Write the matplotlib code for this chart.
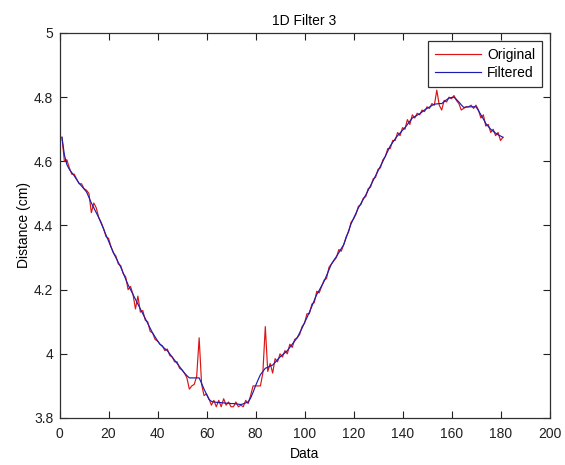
import matplotlib
matplotlib.use("Agg")
import matplotlib.pyplot as plt

plt.rcParams['font.family'] = ['Liberation Sans', 'DejaVu Sans']

# sample index 1..181
data_idx = list(range(1, 182))

original = [
    4.675, 4.600, 4.605, 4.580, 4.560, 4.560, 4.545, 4.530, 4.530, 4.515,
    4.510, 4.500, 4.440, 4.470, 4.455, 4.425, 4.410, 4.390, 4.365, 4.360,
    4.335, 4.315, 4.305, 4.280, 4.275, 4.250, 4.240, 4.200, 4.210, 4.185,
    4.140, 4.180, 4.130, 4.135, 4.105, 4.100, 4.070, 4.065, 4.045, 4.040,
    4.030, 4.025, 4.010, 4.015, 3.995, 3.990, 3.975, 3.975, 3.955, 3.950,
    3.940, 3.925, 3.890, 3.900, 3.905, 3.930, 4.050, 3.905, 3.870, 3.875,
    3.860, 3.840, 3.855, 3.835, 3.855, 3.835, 3.860, 3.840, 3.850, 3.835,
    3.835, 3.850, 3.835, 3.840, 3.835, 3.855, 3.845, 3.870, 3.900, 3.900,
    3.900, 3.900, 3.940, 4.085, 3.945, 3.970, 3.940, 3.985, 3.975, 4.000,
    3.990, 4.010, 4.000, 4.030, 4.020, 4.045, 4.050, 4.060, 4.085, 4.095,
    4.125, 4.125, 4.155, 4.160, 4.195, 4.190, 4.210, 4.230, 4.235, 4.270,
    4.280, 4.290, 4.300, 4.325, 4.320, 4.340, 4.365, 4.380, 4.410, 4.420,
    4.435, 4.460, 4.465, 4.485, 4.490, 4.515, 4.520, 4.545, 4.550, 4.575,
    4.580, 4.605, 4.615, 4.640, 4.640, 4.665, 4.665, 4.690, 4.680, 4.705,
    4.700, 4.730, 4.715, 4.745, 4.735, 4.750, 4.745, 4.760, 4.755, 4.770,
    4.765, 4.780, 4.775, 4.822, 4.775, 4.760, 4.790, 4.785, 4.800, 4.795,
    4.805, 4.790, 4.780, 4.760, 4.765, 4.770, 4.770, 4.775, 4.765, 4.775,
    4.760, 4.735, 4.745, 4.710, 4.715, 4.690, 4.700, 4.680, 4.690, 4.665, 4.675,
]

filtered = [
    4.675, 4.620, 4.590, 4.575, 4.565, 4.555, 4.543, 4.532, 4.523, 4.514,
    4.505, 4.488, 4.470, 4.455, 4.440, 4.425, 4.407, 4.389, 4.370, 4.352,
    4.333, 4.315, 4.300, 4.285, 4.270, 4.252, 4.233, 4.215, 4.200, 4.185,
    4.170, 4.155, 4.140, 4.125, 4.110, 4.095, 4.080, 4.065, 4.053, 4.041,
    4.030, 4.023, 4.016, 4.010, 4.000, 3.990, 3.980, 3.970, 3.960, 3.950,
    3.940, 3.932, 3.925, 3.925, 3.925, 3.925, 3.925, 3.908, 3.890, 3.874,
    3.858, 3.852, 3.850, 3.849, 3.848, 3.848, 3.847, 3.846, 3.846, 3.845,
    3.845, 3.844, 3.843, 3.842, 3.844, 3.847, 3.850, 3.862, 3.880, 3.900,
    3.918, 3.935, 3.945, 3.955, 3.958, 3.962, 3.965, 3.973, 3.982, 3.990,
    3.997, 4.003, 4.010, 4.020, 4.030, 4.040, 4.050, 4.065, 4.080, 4.097,
    4.113, 4.130, 4.148, 4.167, 4.185, 4.198, 4.212, 4.226, 4.244, 4.262,
    4.280, 4.292, 4.303, 4.315, 4.328, 4.340, 4.362, 4.383, 4.405, 4.422,
    4.438, 4.455, 4.468, 4.482, 4.495, 4.510, 4.525, 4.540, 4.555, 4.570,
    4.585, 4.600, 4.616, 4.632, 4.648, 4.659, 4.670, 4.680, 4.688, 4.697,
    4.705, 4.715, 4.725, 4.735, 4.739, 4.744, 4.748, 4.754, 4.760, 4.765,
    4.769, 4.774, 4.778, 4.779, 4.780, 4.780, 4.786, 4.792, 4.797, 4.799,
    4.800, 4.793, 4.785, 4.776, 4.768, 4.769, 4.770, 4.770, 4.770, 4.770,
    4.758, 4.745, 4.732, 4.718, 4.709, 4.700, 4.694, 4.688, 4.683, 4.679, 4.675,
]

xticks = [0, 20, 40, 60, 80, 100, 120, 140, 160, 180, 200]
yticks = [3.8, 4.0, 4.2, 4.4, 4.6, 4.8, 5.0]
ytick_labels = ["3.8", "4", "4.2", "4.4", "4.6", "4.8", "5"]

W, H = 565, 465
fig = plt.figure(figsize=(W / 100, H / 100), dpi=100)
ax = fig.add_axes([59.5 / W, 1 - 418 / H, 490 / W, 385 / H])

ax.plot(data_idx, original, color="#dc1414", lw=0.85, label="Original")
ax.plot(data_idx, filtered, color="#1c1cb0", lw=0.85, label="Filtered")

ax.set_xlim(0, 200)
ax.set_ylim(3.8, 5.0)
ax.set_xticks(xticks)
ax.set_yticks(yticks)
ax.set_yticklabels(ytick_labels)
ax.tick_params(direction="in", top=True, right=True, length=5, width=0.8,
               labelsize=10, colors="#202020")
ax.tick_params(axis="x", pad=6.5)
ax.tick_params(axis="y", pad=4.5)
for sp in ax.spines.values():
    sp.set_linewidth(0.9)
    sp.set_color("#303030")

ax.set_title("1D Filter 3", fontsize=10, pad=6)
ax.set_xlabel("Data", fontsize=10, labelpad=4)
ax.set_ylabel("Distance (cm)", fontsize=10, labelpad=2)

leg = ax.legend(loc="upper right", bbox_to_anchor=(542 / W, 1 - 41 / H),
                bbox_transform=fig.transFigure, fancybox=False, framealpha=1,
                edgecolor="#303030", fontsize=10, handlelength=3.3,
                borderaxespad=0, borderpad=0.5, labelspacing=0.3,
                handletextpad=0.45)
leg.get_frame().set_linewidth(0.9)

fig.savefig("out.png", dpi=100)
